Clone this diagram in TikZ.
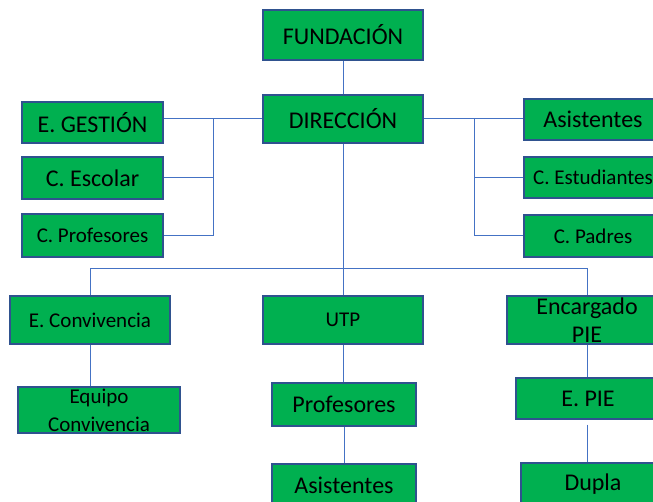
\documentclass[tikz,border=0pt]{standalone}
\usepackage{fontspec}
\setmainfont{Carlito}
\usepackage{tikz}
\usetikzlibrary{calc}
\definecolor{boxgreen}{HTML}{00B050}
\definecolor{boxline}{HTML}{2F528F}
\definecolor{linkblue}{HTML}{4472C4}

\begin{document}
\begin{tikzpicture}[x=1pt,y=-1pt,
    unit/.style={draw=boxline,line width=1.2pt,fill=boxgreen,inner sep=0pt,align=center,
        font=\fontsize{24}{28}\selectfont},
    small/.style={font=\fontsize{21}{28}\selectfont},
    link/.style={draw=linkblue,line width=1pt}]
    \useasboundingbox (0,0) rectangle (653,502);
    \clip (0,0) rectangle (653,502);
    \node[unit,minimum width=160,minimum height=50] (fund) at (343,35) {FUNDACIÓN};
    \node[unit,minimum width=160,minimum height=48] (dir) at (343,119) {DIRECCIÓN};
    \node[unit,minimum width=141,minimum height=41] (gest) at (92.5,122.5) {E. GESTIÓN};
    \node[unit,minimum width=141,minimum height=42] (escolar) at (92.5,178) {C. Escolar};
    \node[unit,small,minimum width=141,minimum height=43] (cprof) at (92.5,235.5) {C. Profesores};
    \node[unit,minimum width=138,minimum height=41] (asisR) at (593,119.5) {Asistentes};
    \node[unit,small,minimum width=138,minimum height=41] (cest) at (593,177.5) {C. Estudiantes};
    \node[unit,small,minimum width=138,minimum height=42] (cpad) at (593,236) {C. Padres};
    \node[unit,small,minimum width=160,minimum height=48] (conv) at (90,320) {E. Convivencia};
    \node[unit,small,minimum width=160,minimum height=48] (utp) at (343,320) {UTP};
    \node[unit,minimum width=160,minimum height=48] (encar) at (587,320) {Encargado\\PIE};
    \node[unit,small,minimum width=162,minimum height=46] (equipo) at (99,410) {Equipo\\Convivencia};
    \node[unit,minimum width=144,minimum height=43] (prof) at (344,404.5) {Profesores};
    \node[unit,minimum width=144,minimum height=43] (asisB) at (344,485.5) {Asistentes};
    \node[unit,minimum width=144,minimum height=41] (epie) at (588,398.5) {E. PIE};
    \node[unit,minimum width=144,minimum height=43] (dupla) at (593,484.5) {Dupla};
    \coordinate (lbus) at (213,0);
    \coordinate (rbus) at (474,0);
    \coordinate (hbus) at (0,269);
    \draw[link] (fund) -- (dir);
    \draw[link] (dir.west) -- (dir.west -| gest.east);
    \draw[link] (dir.west -| lbus) |- (cprof.east);
    \draw[link] (escolar.east) -- (escolar.east -| lbus);
    \draw[link] (dir.east) -- (dir.east -| asisR.west);
    \draw[link] (dir.east -| rbus) |- (cpad.west);
    \draw[link] (cest.west) -- (cest.west -| rbus);
    \draw[link] (dir) -- (utp);
    \draw[link] (conv.north) -- (conv.north |- hbus) -- (encar.north |- hbus) -- (encar.north);
    \draw[link] (conv.south) -- (conv.south |- equipo.north);
    \draw[link] (utp.south) -- (utp.south |- prof.north);
    \draw[link] (prof.south) -- (prof.south |- asisB.north);
    \draw[link] (encar.south) -- (encar.south |- epie.north);
    \draw[link,shorten <=5pt] (encar.south |- epie.south) -- (encar.south |- dupla.north);
\end{tikzpicture}
\end{document}
